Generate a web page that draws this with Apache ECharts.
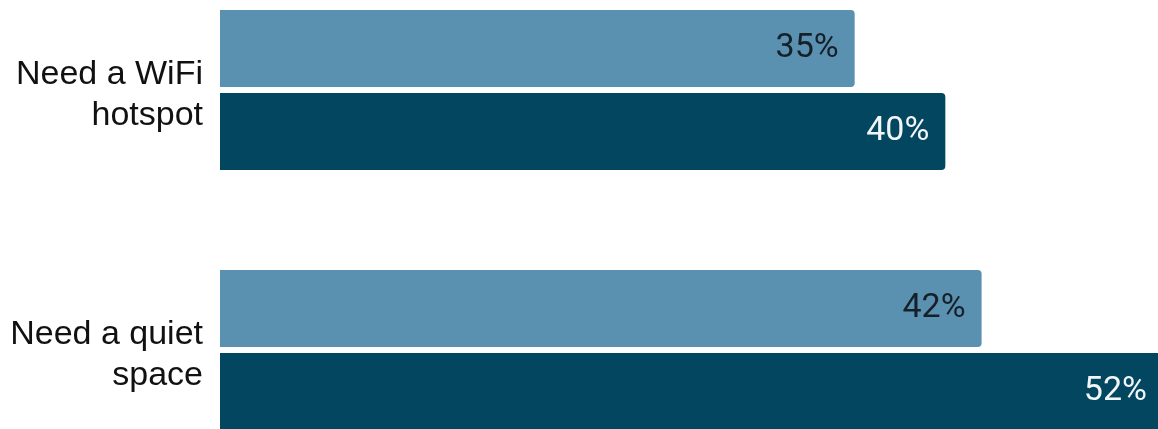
<!DOCTYPE html>
<html>
<head>
<meta charset="utf-8">
<style>
  html, body { margin: 0; padding: 0; background: #fff; }
  #chart { width: 1158px; height: 429px; }
</style>
<script src="https://cdn.jsdelivr.net/npm/echarts@6/dist/echarts.min.js"></script>
</head>
<body>
<div id="chart"></div>
<script>
// categories and series values (percent)
const categories = ['Need a WiFi\nhotspot', 'Need a quiet\nspace']
const seriesLight = [35, 42]
const seriesDark = [40, 52]

const chart = echarts.init(document.getElementById('chart'))

// 值標籤樣式
const valueLabel = color => ({
  show: true,
  position: 'insideRight',
  distance: 16,
  formatter: '{c}%',
  color,
  fontFamily: 'Roboto',
  fontSize: 34
})

chart.setOption({
  animation: false,
  // the chart is cropped: grid runs past the container on top, bottom and right
  grid: { left: 220, top: -40, height: 520, width: 1088, outerBoundsMode: 'none', containLabel: false },
  xAxis: {
    type: 'value',
    min: 0,
    max: 60,
    show: false
  },
  yAxis: {
    type: 'category',
    inverse: true,
    data: categories,
    axisLine: { show: false },
    axisTick: { show: false },
    axisLabel: {
      margin: 17,
      fontFamily: 'Liberation Sans',
      fontSize: 34,
      lineHeight: 41,
      verticalAlign: 'top',
      padding: [-36, 0, 0, 0],
      color: '#111',
      align: 'right'
    }
  },
  series: [
    {
      type: 'bar',
      data: seriesLight,
      barWidth: 77,
      barGap: '8%',
      itemStyle: { color: '#5b91b0', borderRadius: [0, 4, 4, 0] },
      label: valueLabel('#15202a')
    },
    {
      type: 'bar',
      data: seriesDark,
      barWidth: 77,
      barGap: '8%',
      itemStyle: { color: '#03465f', borderRadius: [0, 4, 4, 0] },
      label: valueLabel('#f2f6f8')
    }
  ]
})
</script>
</body>
</html>
